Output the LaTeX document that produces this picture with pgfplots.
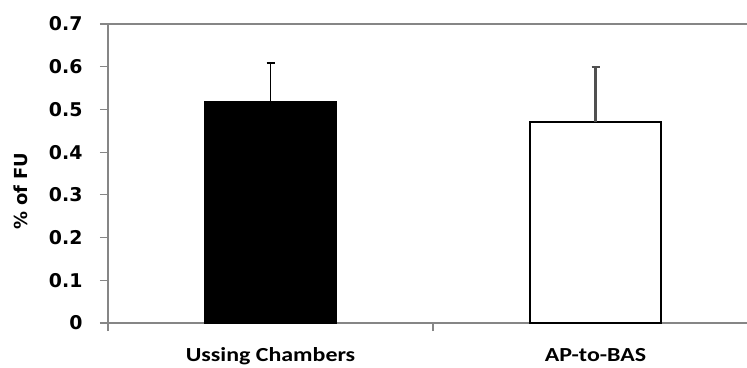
\documentclass[border=0pt]{standalone}
\usepackage{pgfplots}
\pgfplotsset{compat=1.18}
\usepackage{fontspec}
\setmainfont{DejaVu Sans}
\newfontfamily\catfont[FakeStretch=1.2]{Carlito}
\definecolor{axgray}{HTML}{868686}
\definecolor{errgray}{HTML}{505050}
\begin{document}
\begin{tikzpicture}
\begin{axis}[
  scale only axis,
  width=639bp, height=299bp,
  xmin=-0.5, xmax=1.466,
  ymin=0, ymax=0.7,
  separate axis lines,
  axis x line=box,
  axis y line=left,
  x axis line style={-, draw=axgray, line width=1.8bp},
  y axis line style={-, draw=axgray, line width=1.8bp},
  xtick={0,1},
  xticklabels={Ussing Chambers, AP-to-BAS},
  major x tick style={draw=none},
  minor xtick={-0.5,0.5},
  minor x tick style={draw=axgray, line width=1.2bp},
  minor tick length=8bp,
  xtick pos=bottom,
  ytick={0,0.1,...,0.7},
  ytick pos=left,
  y tick style={draw=axgray, line width=1.2bp},
  major tick length=8bp,
  tick align=outside,
  yticklabel style={font=\fontsize{19}{19}\selectfont\bfseries, /pgf/number format/fixed, /pgf/number format/precision=1, xshift=-14bp},
  /pgf/number format/assume math mode=true,
  xticklabel style={font=\catfont\fontsize{20}{20}\selectfont\bfseries, anchor=base, yshift=-30bp},
  ylabel={\% of FU},
  every axis y label/.style={at={([xshift=-87.5bp]rel axis cs:0,0.441)}, rotate=90, anchor=center, font=\fontsize{18}{18}\selectfont\bfseries},
  clip=false,
]
\addplot[ybar, bar width=131bp, fill=black, draw=black, line width=1.6bp,
  error bars/.cd, y dir=plus, y explicit,
  error bar style={draw=black, line width=1.8bp},
  error mark options={draw=black, line width=1.8bp, mark size=4bp, rotate=90}]
  coordinates {(0,0.518) +- (0,0.090)};
\addplot[ybar, bar width=131bp, fill=white, draw=black, line width=2.6bp,
  error bars/.cd, y dir=plus, y explicit,
  error bar style={draw=errgray, line width=2.6bp},
  error mark options={draw=errgray, line width=2.2bp, mark size=4bp, rotate=90}]
  coordinates {(1,0.471) +- (0,0.129)};
\coordinate (sw) at (rel axis cs:0,0);
\coordinate (ne) at (rel axis cs:1,1);
\end{axis}
\pgfresetboundingbox
\path ([xshift=-108bp,yshift=-45bp]sw) rectangle ([yshift=24bp]ne);
\end{tikzpicture}
\end{document}
